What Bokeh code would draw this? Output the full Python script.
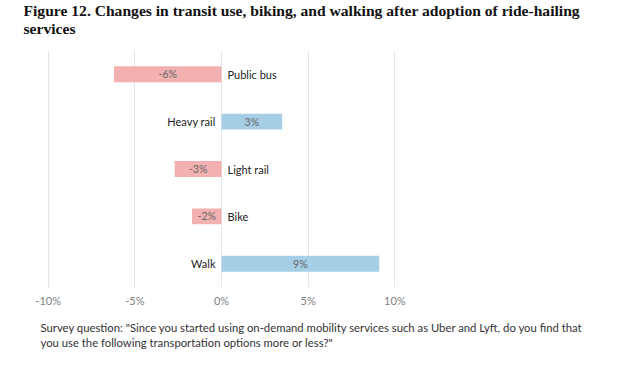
from bokeh.plotting import figure
from bokeh.models import ColumnDataSource, Range1d, FixedTicker, Title
from bokeh.core.properties import value
from bokeh.embed import file_html
from bokeh.resources import INLINE

categories = ["Public bus", "Heavy rail", "Light rail", "Bike", "Walk"]
changes = [-6.2, 3.5, -2.7, -1.7, 9.1]
value_labels = ["-6%", "3%", "-3%", "-2%", "9%"]
tick_values = [-10, -5, 0, 5, 10]
tick_labels = ["-10%", "-5%", "0%", "5%", "10%"]
title_text = ("Figure 12. Changes in transit use, biking, and walking after adoption of ride-hailing\n"
              "services")
caption_text = ('Survey question: "Since you started using on-demand mobility services such as Uber and Lyft, do you find that\n'
                'you use the following transportation options more or less?"')

NEG = "#f2b0b0"
POS = "#a6cfe7"

ys = [len(categories) - 1 - i for i in range(len(categories))]
colors = [NEG if v < 0 else POS for v in changes]
lefts = [min(0, v) for v in changes]
rights = [max(0, v) for v in changes]
mids = [v / 2 for v in changes]
cat_align = ["left" if v < 0 else "right" for v in changes]
cat_off = [6 if v < 0 else -6 for v in changes]

src = ColumnDataSource(dict(y=ys, left=lefts, right=rights, color=colors,
                            mid=mids, vlab=value_labels, cat=categories,
                            calign=cat_align, coff=cat_off, zero=[0]*len(changes)))

p = figure(width=603, height=362, output_backend="svg", toolbar_location=None,
           x_range=Range1d(-10.5, 10.5), y_range=Range1d(-0.5, 4.5),
           min_border_left=39, min_border_right=200, min_border_top=49,
           min_border_bottom=75)
p.outline_line_color = None
p.background_fill_color = "white"
p.border_fill_color = "white"

p.hbar(y="y", left="left", right="right", height=0.336, fill_color="color",
       line_color=None, source=src)
p.text(x="mid", y="y", text="vlab", text_align="center", text_baseline="middle",
       text_font=value("Lato"), text_font_size="10.5px", text_color="#666666", source=src)
p.text(x="zero", y="y", text="cat", text_align="calign", x_offset="coff",
       text_baseline="middle", text_font=value("Lato"), text_font_size="11px",
       text_color="#222222", source=src)

p.yaxis.visible = False
p.ygrid.visible = False
p.xaxis.ticker = FixedTicker(ticks=tick_values)
p.xaxis.major_label_overrides = {t: l for t, l in zip(tick_values, tick_labels)}
p.xaxis.axis_line_color = None
p.xaxis.major_tick_line_color = None
p.xaxis.minor_tick_line_color = None
p.xaxis.major_label_standoff = 0
p.xaxis.major_label_text_font = "Lato"
p.xaxis.major_label_text_font_size = "11px"
p.xaxis.major_label_text_color = "#808080"
p.xgrid.grid_line_color = "#e6e6e6"
p.xgrid.grid_line_width = 1

spacer = Title(text=" ", text_font_size="1px", standoff=10, text_color="white")
p.add_layout(spacer, "above")
t1 = Title(text=title_text, text_font="Liberation Serif", text_font_size="15.6px",
           text_font_style="bold", text_color="#111111", align="left", offset=-16,
           standoff=0, text_line_height=1.06)
p.add_layout(t1, "above")

c1 = Title(text=caption_text, text_font="Lato", text_font_size="11.3px",
           text_font_style="normal", text_color="#333333", align="left", offset=1,
           standoff=19, text_line_height=1.17)
p.add_layout(c1, "below")

open("out.html", "w").write(file_html(p, INLINE))
